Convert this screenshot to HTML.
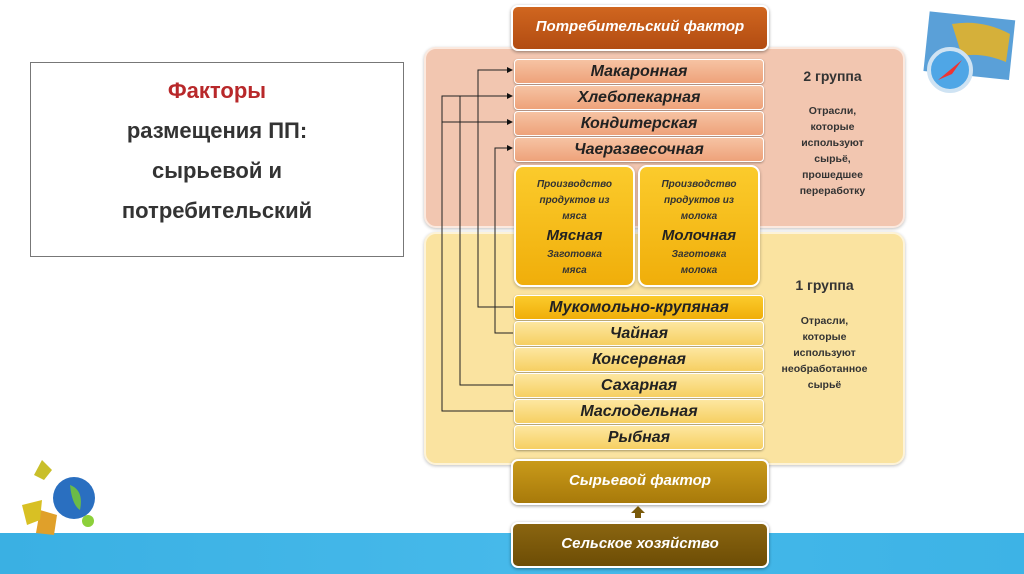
<!DOCTYPE html>
<html><head><meta charset="utf-8"><style>
body{margin:0;width:1024px;height:574px;position:relative;overflow:hidden;background:#fff;font-family:"Liberation Sans","DejaVu Sans",sans-serif}
.a{position:absolute;box-sizing:border-box}
.it{position:absolute;left:514px;width:248px;height:23px;border-radius:4px;text-align:center;font-style:italic;font-weight:bold;font-size:16px;line-height:23px;color:#222;box-shadow:0 1px 2px rgba(0,0,0,.35);border:1px solid #fff}
.p{background:linear-gradient(#f6c3a3,#eea27a)}
.y{background:linear-gradient(#fde7a0,#f6cf62)}
.big{position:absolute;left:511px;width:254px;height:42px;border-radius:7px;text-align:center;line-height:40px;color:#fff;font-style:italic;font-weight:bold;font-size:15px;box-shadow:0 1px 3px rgba(0,0,0,.4);border:2px solid #fff}
.pb{position:absolute;top:165px;height:122px;border-radius:9px;background:linear-gradient(#fbcb2c,#f0ae0a);text-align:center;font-style:italic;font-weight:bold;color:#333;font-size:10px;line-height:16px;padding-top:10px;box-sizing:border-box;border:2px solid #fff;box-shadow:0 1px 3px rgba(0,0,0,.3)}
.pb b{display:block;font-size:15px;color:#222;line-height:22px}
.side{position:absolute;left:770px;width:125px;text-align:center;font-weight:bold;color:#333}
</style></head><body>
<div class="a" style="left:0;top:533px;width:1024px;height:41px;background:linear-gradient(90deg,#3ab0e3,#46b9ea,#3db3e6)"></div>
<div class="a" style="left:30px;top:62px;width:374px;height:195px;border:1px solid #777;text-align:center;padding-top:8px;font-weight:bold;font-size:22px;line-height:40px;color:#333">
<span style="color:#b8282a">Факторы</span><br>размещения ПП:<br>сырьевой и<br>потребительский</div>
<div class="a" style="left:424px;top:47px;width:481px;height:181px;border-radius:12px;background:#f2c6b0;border:2px solid #fbe9df;box-shadow:0 1px 3px rgba(0,0,0,.25)"></div>
<div class="a" style="left:424px;top:232px;width:481px;height:233px;border-radius:12px;background:#fae3a0;border:2px solid #fdf3d8;box-shadow:0 1px 3px rgba(0,0,0,.25)"></div>
<div class="big" style="top:5px;background:linear-gradient(#d0661f,#b24c12)">Потребительский фактор</div>
<div class="it p" style="top:59px">Макаронная</div>
<div class="it p" style="top:85px">Хлебопекарная</div>
<div class="it p" style="top:111px">Кондитерская</div>
<div class="it p" style="top:137px">Чаеразвесочная</div>
<div class="pb" style="left:514px;width:121px">Производство<br>продуктов из<br>мяса<b>Мясная</b>Заготовка<br>мяса</div>
<div class="pb" style="left:638px;width:122px">Производство<br>продуктов из<br>молока<b>Молочная</b>Заготовка<br>молока</div>
<div class="it" style="top:295px;background:linear-gradient(#fbcb2c,#f0ae0a)">Мукомольно-крупяная</div>
<div class="it y" style="top:321px">Чайная</div>
<div class="it y" style="top:347px">Консервная</div>
<div class="it y" style="top:373px">Сахарная</div>
<div class="it y" style="top:399px">Маслодельная</div>
<div class="it y" style="top:425px">Рыбная</div>
<div class="big" style="top:459px;background:linear-gradient(#c99a1a,#a87a0a)">Сырьевой фактор</div>
<div class="big" style="top:522px;background:linear-gradient(#8a6510,#6d4d05)">Сельское хозяйство</div>
<div class="side" style="top:68px;font-size:14px">2 группа</div>
<div class="side" style="top:103px;font-size:10.5px;line-height:16px">Отрасли,<br>которые<br>используют<br>сырьё,<br>прошедшее<br>переработку</div>
<div class="side" style="top:277px;font-size:14px;left:762px">1 группа</div>
<div class="side" style="top:313px;font-size:10.5px;line-height:16px;left:762px">Отрасли,<br>которые<br>используют<br>необработанное<br>сырьё</div>
<svg class="a" style="left:0;top:0" width="1024" height="574">
<defs><marker id="m" markerWidth="6" markerHeight="6" refX="5" refY="3" orient="auto"><path d="M0,0L6,3L0,6z" fill="#111"/></marker></defs>
<g stroke="#222" stroke-width="1" fill="none">
<path d="M513,307H478V70H512" marker-end="url(#m)"/>
<path d="M513,385H460V96H512" marker-end="url(#m)"/>
<path d="M513,411H442V96H460"/>
<path d="M442,122H512" marker-end="url(#m)"/>
<path d="M513,333H495V148H512" marker-end="url(#m)"/>
</g>
<path d="M631,513L638,506L645,513H641V518H635V513Z" fill="#7a5a0a"/>
<g transform="translate(922,14)"><rect x="4" y="2" width="86" height="60" fill="#5aa0d8" transform="rotate(6 50 35)"/><path d="M30,10Q60,5 88,20L84,48Q60,38 40,42Z" fill="#d5b03a"/><circle cx="28" cy="56" r="21" fill="#4fa6e6" stroke="#cfe3f3" stroke-width="4"/><path d="M16,66L40,46L30,60Z" fill="#e33"/></g>
<g transform="translate(12,455)"><path d="M30,5L40,15L32,25L22,20Z" fill="#c9bf2a"/><circle cx="62" cy="43" r="21" fill="#2a6fc0"/><path d="M58,30Q72,35 68,55Q60,50 58,30" fill="#6bbb48"/><path d="M28,55L45,60L42,80L24,78Z" fill="#e0a02a"/><circle cx="76" cy="66" r="6" fill="#8cd03a"/><path d="M10,50L30,45L28,65L15,70Z" fill="#d8c024"/></g>
</svg>
</body></html>
